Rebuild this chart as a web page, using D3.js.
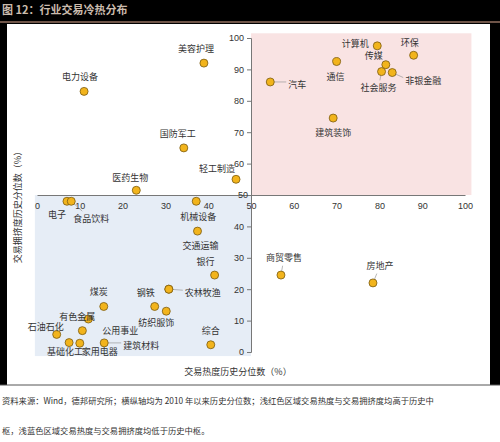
<!DOCTYPE html>
<html><head><meta charset="utf-8">
<script src="https://cdn.jsdelivr.net/npm/d3@7"></script>
<style>body{margin:0;background:#000;}svg{display:block;font-family:"Noto Sans CJK SC","DejaVu Sans",sans-serif;}</style>
</head><body>
<script>
const names = ["美容护理","电力设备","国防军工","医药生物","轻工制造","电子","食品饮料","机械设备","交通运输","银行","钢铁","农林牧渔","纺织服饰a","纺织服饰","煤炭","有色金属","石油石化","公用事业","基础化工","家用电器","建筑材料","综合","商贸零售","房地产","汽车","通信","计算机","传媒","社会服务","非银金融","环保","建筑装饰"];
const heat = [39,11,34.3,23.2,46.5,7,8,37.2,37.5,41.5,30.8,30.8,27.5,30.2,15.6,12,4.6,10.6,7.5,10,15.7,40.6,57,78.5,54.5,70,79.5,81.5,80.5,83,88,69.2];
const crowd = [92,83,65,51.5,55,48,48,48,38.5,24.5,20,20,14.5,13,14.5,10.5,5.6,6.8,3,2.8,2.9,2.3,24.5,22,86,92.5,97.5,91.5,89.3,89,94.5,74.5];
const xTicks = [0,10,20,30,40,50,60,70,80,90,100];
const yTicks = [0,10,20,30,40,50,60,70,80,90,100];
const lab = {
"美容护理":[-8,-14,"middle"],"电力设备":[-4,-14,"middle"],"国防军工":[-6,-14,"middle"],"医药生物":[-6,-12,"middle"],
"轻工制造":[-19,-10,"middle"],"电子":[-10,14,"middle"],"食品饮料":[20,18,"middle",1],"机械设备":[2,16,"middle"],
"交通运输":[3,15,"middle"],"银行":[-9,-13,"middle"],"钢铁":[-23,4,"middle"],"农林牧渔":[16,4,"start",1],
"纺织服饰a":null,"纺织服饰":[-10,12,"middle"],"煤炭":[-5,-14,"middle"],"有色金属":[-11,-2,"middle"],
"石油石化":[-11,-7,"middle"],"公用事业":[38,0,"middle"],"基础化工":[-4,9,"middle"],"家用电器":[20,9,"middle"],
"建筑材料":[19,3,"start",1],"综合":[0,-14,"middle"],"商贸零售":[3,-17,"middle",1],"房地产":[7,-17,"middle",1],
"汽车":[18,3,"start",1],"通信":[-1,15,"middle"],"计算机":[-22,-2,"middle"],"传媒":[-12,-9,"middle"],
"社会服务":[-3,16,"middle",1],"非银金融":[13,8,"start",1],"环保":[-4,-12,"middle"],"建筑装饰":[0,15,"middle"]};
const svg = d3.select("body").append("svg").attr("width",500).attr("height",442);
svg.append("rect").attr("width",500).attr("height",442).attr("fill","#000");
svg.append("text").attr("x",2).attr("y",14).attr("fill","#cbbcae").attr("font-size",11).attr("font-weight","bold").text("图 12：行业交易冷热分布");
svg.append("rect").attr("x",0).attr("y",21).attr("width",500).attr("height",2).attr("fill","#6e5448");
svg.append("rect").attr("x",7).attr("y",24).attr("width",483).attr("height",361).attr("fill","#fff");
svg.append("rect").attr("x",0).attr("y",385).attr("width",500).attr("height",57).attr("fill","#fff");
svg.append("line").attr("x1",0).attr("x2",500).attr("y1",385).attr("y2",385).attr("stroke","#555");
const x = d3.scaleLinear().domain([0,100]).range([37,465]);
const y = d3.scaleLinear().domain([0,100]).range([352,38]);
svg.append("rect").attr("x",x(50)).attr("y",y(101.5)).attr("width",x(101.5)-x(50)).attr("height",y(50)-y(101.5)).attr("fill","#f9e3e3");
svg.append("rect").attr("x",x(-0.5)).attr("y",y(50)).attr("width",x(50)-x(-0.5)).attr("height",y(-1.3)-y(50)).attr("fill","#e6edf6");
const xa = svg.append("g").attr("transform",`translate(0,${y(50)})`).call(d3.axisBottom(x).tickValues(xTicks).tickSize(0).tickPadding(8));
const ya = svg.append("g").attr("transform",`translate(${x(50)},0)`).call(d3.axisLeft(y).tickValues(yTicks).tickSize(4));
[xa,ya].forEach(a=>{a.selectAll("path").attr("stroke","#777");a.selectAll("line").attr("stroke","#777");a.selectAll("text").attr("font-family","Liberation Sans, Arial").attr("font-size",9).attr("fill","#333");});
ya.selectAll(".tick").filter(d=>d===50).select("text").attr("dx",4);
names.forEach((n,i)=>{
  const l = lab[n]; if(!l) return;
  const px=x(heat[i]), py=y(crowd[i]);
  if(l[3]){
    const ex = px + l[0]*0.55, ey = py + l[1]*0.55;
    svg.append("line").attr("x1",px).attr("y1",py).attr("x2",l[2]==="start"?px+l[0]-2:ex).attr("y2",l[2]==="start"?py+l[1]-3:ey).attr("stroke","#999").attr("stroke-width",0.7);
  }
});
svg.selectAll("circle").data(names).join("circle").attr("cx",(d,i)=>x(heat[i])).attr("cy",(d,i)=>y(crowd[i])).attr("r",4).attr("fill","#f2b41c").attr("stroke","#7a5a10").attr("stroke-width",0.8);
names.forEach((n,i)=>{
  const l = lab[n]; if(!l) return;
  svg.append("text").attr("x",x(heat[i])+l[0]).attr("y",y(crowd[i])+l[1]+3).attr("text-anchor",l[2]).attr("font-size",9).attr("fill","#333").text(n);
});
svg.append("text").attr("x",238).attr("y",375).attr("text-anchor","middle").attr("font-size",9).attr("fill","#333").text("交易热度历史分位数（%）");
svg.append("text").attr("transform","translate(21,205) rotate(-90)").attr("text-anchor","middle").attr("font-size",9).attr("fill","#333").text("交易拥挤度历史分位数（%）");
svg.append("text").attr("x",2).attr("y",404).attr("font-size",8.3).attr("fill","#333").text("资料来源：Wind，德邦研究所；横纵轴均为 2010 年以来历史分位数；浅红色区域交易热度与交易拥挤度均高于历史中");
svg.append("text").attr("x",2).attr("y",434).attr("font-size",8.3).attr("fill","#333").text("枢，浅蓝色区域交易热度与交易拥挤度均低于历史中枢。");
</script>
</body></html>
